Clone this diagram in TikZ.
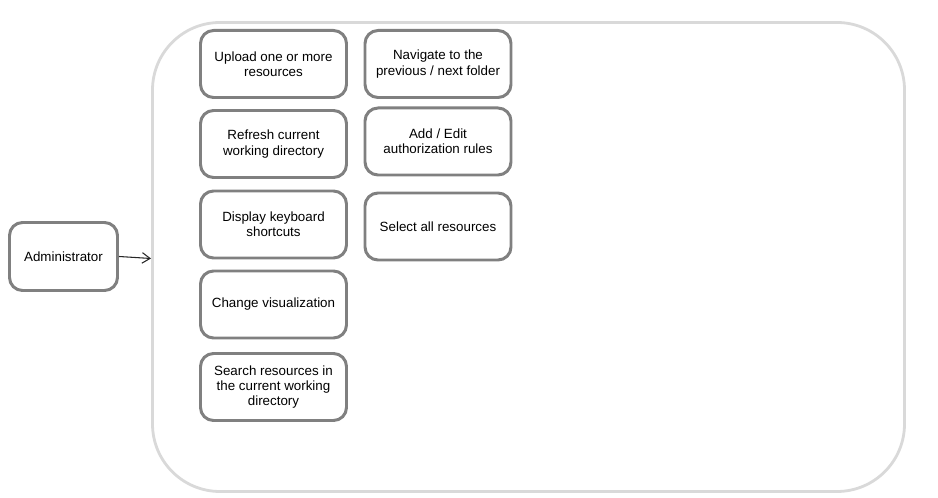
\documentclass[tikz,border=0pt]{standalone}
\usepackage{fontspec}
\setmainfont{Liberation Sans}
\usepackage{tikz}
\usetikzlibrary{calc,arrows.meta}

\begin{document}
\begin{tikzpicture}[
        task/.style={draw=black!50, line width=1.7pt, rounded corners=0.26cm, fill=white,
            minimum width=2.92cm, minimum height=1.34cm, align=center,
            font=\fontsize{7.6}{8.6}\selectfont},
    ]
        \useasboundingbox (0,0) rectangle (18.76,9.96);
        %\draw[step=1cm,gray,very thin] (0,0) grid (18,9);

        % Frame.
        \draw[black!15, line width=1.6pt, rounded corners=1.35cm] (3.05,0.13) rectangle (18.09,9.51);

        % Actor.
        \node[task, minimum width=2.16cm, minimum height=1.36cm] (admin) at (1.27,4.83) {Administrator};
        \coordinate (frame) at (3.02,4.79);
        \draw[-{Straight Barb[length=4.5pt, width=6pt]}, line width=0.6pt, black!85] (admin.east) -- (frame);

        % First column.
        \node[task] (upload) at (5.47,8.68) {Upload one or more\\resources};
        \node[task] (refresh) at (5.47,7.08) {Refresh current\\working directory};
        \node[task] (keys) at (5.47,5.47) {Display keyboard\\shortcuts};
        \node[task] (view) at (5.47,3.87) {Change visualization};
        \node[task] (search) at (5.47,2.22) {Search resources in\\the current working\\directory};

        % Second column.
        \node[task] (navigate) at (8.76,8.68) {Navigate to the\\previous / next folder};
        \node[task] (rules) at (8.76,7.13) {Add / Edit\\authorization rules};
        \node[task] (select) at (8.76,5.43) {Select all resources};

    \end{tikzpicture}
\end{document}
